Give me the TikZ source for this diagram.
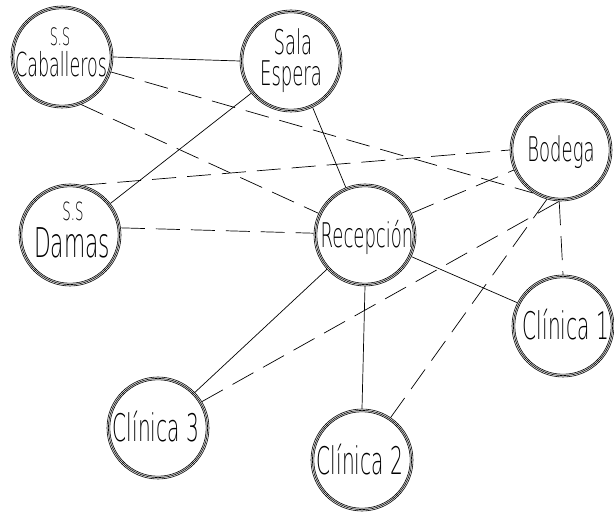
\documentclass[tikz,border=0pt]{standalone}
\usepackage{fontspec}
\IfFontExistsTF{DejaVuSans-ExtraLight.ttf}
  {\newfontfamily\lblfont{DejaVuSans-ExtraLight.ttf}[FakeStretch=0.53]}
  {\newfontfamily\lblfont[FakeStretch=0.55]{Fira Sans}}
\newcommand\fs[1]{\fontsize{#1}{#1}\selectfont}
\tikzset{
  room/.style={circle, draw, line width=0.6pt, minimum size=102pt, inner sep=0pt,
    path picture={\draw[line width=0.6pt] (path picture bounding box.center)
      circle[radius=49.6pt] circle[radius=48.2pt];}},
  lbl/.style={inner sep=0pt, anchor=base, font=\lblfont},
  sline/.style={line width=0.7pt},
  dline/.style={line width=0.7pt, dash pattern=on 24pt off 11pt},
}
\begin{document}
\begin{tikzpicture}[x=1pt,y=-1pt]
\useasboundingbox (0,0) rectangle (614,513);
% rooms
\node[room] (cab) at (62,57) {};
\node[room] (sala) at (291,61) {};
\node[room] (bod) at (561,150) {};
\node[room] (dam) at (70,235) {};
\node[room] (rec) at (365,235) {};
\node[room] (cl1) at (563,326) {};
\node[room] (cl3) at (158,428) {};
\node[room] (cl2) at (362,460) {};
% labels
\node[lbl] (cabA) at (60,46) {\fs{24}S.S};
\node[lbl] (cabB) at (61,77) {\fs{33}Caballeros};
\node[lbl] (salaA) at (293,55) {\fs{34}Sala};
\node[lbl] (salaB) at (291,86) {\fs{34}Espera};
\node[lbl] (bodT) at (561,162) {\fs{34}Bodega};
\node[lbl] (damA) at (73,221) {\fs{25}S.S};
\node[lbl] (damB) at (72,258) {\fs{41}Damas};
\node[lbl] (recT) at (367,248) {\fs{34}Recepción};
\node[lbl] (cl1T) at (566,340) {\fs{38}Clínica 1};
\node[lbl] (cl3T) at (156,442) {\fs{38}Clínica 3};
\node[lbl] (cl2T) at (360,475) {\fs{38}Clínica 2};
% links
\draw[sline] (cab.east) -- (sala.west);
\draw[dline] (cab.343) -- (bod.237);
\draw[dline] (cab.292) -- (rec.155);
\draw[sline] (sala.219) -- (dam.38);
\draw[sline] (sala.295) -- (rec.112);
\draw[dline] (dam.76) -- (bod.180);
\draw[dline] (dam.8) -- (rec.178);
\draw[dline] (rec.25) -- (bod.203);
\draw[sline] (rec.335) -- (cl1.153);
\draw[sline] (rec.222) -- (cl3.44);
\draw[sline] (rec.south) -- (cl2.north);
\draw[dline] (cl3.31) -- (bod.268);
\draw[dline] (cl2.56) -- (bod.254);
\draw[dline] (bod.268) -- (cl1.north);
\end{tikzpicture}
\end{document}
